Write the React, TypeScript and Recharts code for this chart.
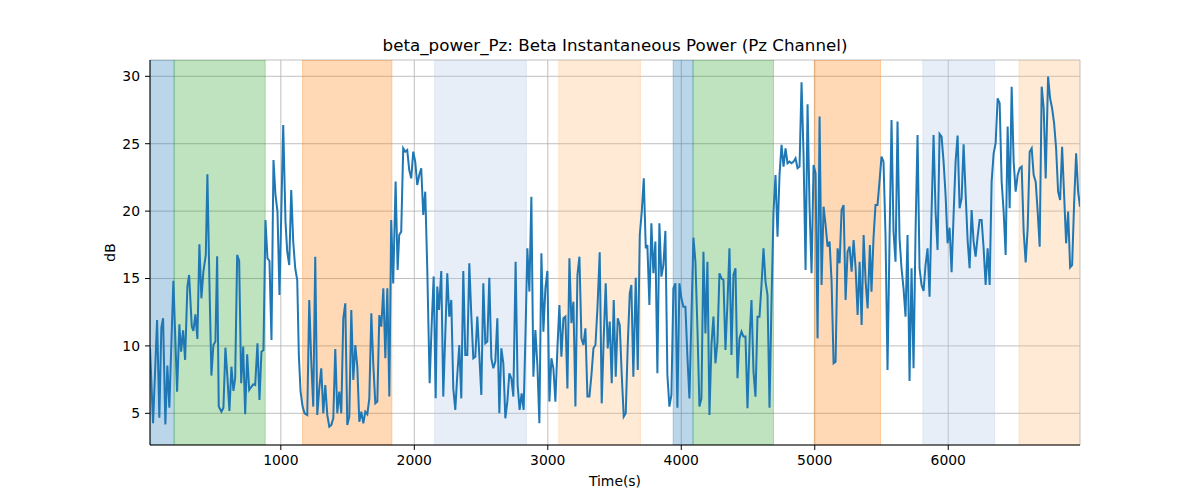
import React from 'react';
import { ComposedChart, Line, XAxis, YAxis, CartesianGrid, ReferenceArea, Label } from 'recharts';

const times = [
  20, 43, 73, 90, 105, 118, 135, 150, 165, 195, 223, 240, 253, 268, 283, 300, 313, 333, 345, 360,
  375, 390, 405, 420, 438, 450, 465, 480, 495, 510, 523, 535, 555, 570, 585, 600, 615, 630, 645, 658,
  673, 688, 703, 718, 733, 748, 763, 778, 793, 808, 825, 840, 855, 870, 885, 900, 915,
  930, 945, 960, 975, 990, 1018, 1035, 1048, 1063, 1078, 1093, 1108, 1123, 1135, 1148, 1163, 1178, 1198, 1213, 1228,
  1243, 1258, 1273, 1288, 1303, 1318, 1333, 1348, 1363, 1378, 1393, 1408, 1423, 1438, 1453, 1468, 1483, 1498, 1513, 1528,
  1543, 1558, 1573, 1588, 1603, 1618, 1633, 1648, 1663, 1678, 1693, 1708, 1723, 1738, 1753, 1768, 1783, 1798, 1813,
  1827, 1842, 1860, 1875, 1887, 1902, 1917, 1932, 1947, 1962, 1977, 1992, 2007, 2022, 2037, 2052, 2067, 2082, 2097, 2115,
  2130, 2145, 2160, 2172, 2185, 2202, 2217, 2247, 2262, 2277, 2292, 2307, 2322, 2337, 2352, 2367, 2382, 2397, 2412, 2427,
  2442, 2457, 2472, 2487, 2502, 2517, 2532, 2547, 2562, 2577, 2592, 2607, 2622, 2637, 2652, 2667, 2682, 2697, 2712,
  2727, 2742, 2759, 2774, 2789, 2804, 2819, 2834, 2847, 2862, 2877, 2892, 2907, 2922, 2937, 2952, 2967, 2982, 2997, 3012,
  3027, 3042, 3057, 3072, 3087, 3102, 3117, 3132, 3147, 3162, 3177, 3192, 3207, 3222, 3237, 3252, 3267, 3282, 3297, 3312,
  3327, 3342, 3357, 3372, 3389, 3404, 3419, 3434, 3449, 3464, 3479, 3494, 3509, 3524, 3539, 3554, 3569, 3584, 3599, 3614,
  3626, 3641, 3659, 3674, 3689, 3704, 3719, 3734, 3746, 3761, 3776, 3791, 3806, 3821, 3836, 3851, 3866, 3881, 3896, 3911,
  3926, 3941, 3956, 3971, 3986, 4001, 4016, 4031, 4046, 4061, 4091, 4106, 4121, 4136, 4151, 4166, 4181, 4196, 4211, 4226,
  4241, 4256, 4271, 4286, 4301, 4316, 4331, 4346, 4361, 4376, 4391, 4406, 4421, 4436, 4451, 4466, 4481, 4496, 4514,
  4526, 4541, 4556, 4571, 4586, 4601, 4616, 4631, 4646, 4661, 4676, 4691, 4706, 4721, 4736, 4751, 4766, 4781, 4796, 4811,
  4826, 4841, 4856, 4871, 4886, 4901, 4916, 4931, 4946, 4961, 4976, 4991, 5006, 5021, 5036, 5051, 5066, 5081, 5096, 5111,
  5126, 5141, 5156, 5171, 5186, 5201, 5216, 5231, 5246, 5261, 5276, 5291, 5306, 5321, 5336, 5351, 5366, 5381, 5396, 5413,
  5425, 5440, 5455, 5470, 5485, 5500, 5515, 5530, 5545, 5560, 5575, 5590, 5605, 5620, 5635, 5650, 5665, 5680, 5695, 5710,
  5725, 5740, 5755, 5770, 5785, 5800, 5815, 5830, 5845, 5860, 5875, 5890, 5905, 5920, 5935, 5950, 5965, 5980, 5995, 6010,
  6025, 6040, 6055, 6070, 6085, 6100, 6115, 6130, 6145, 6160, 6175, 6190, 6205, 6220, 6235, 6250, 6265, 6280, 6295, 6310,
  6325, 6340, 6355, 6370, 6385, 6400, 6415, 6430, 6445, 6460, 6475, 6490, 6505, 6520, 6535, 6550, 6565, 6580, 6595, 6610,
  6625, 6640, 6655, 6670, 6685, 6700, 6715, 6730, 6748, 6763, 6778, 6793, 6808, 6823, 6838, 6853, 6868, 6883, 6898, 6913,
  6928, 6943, 6958, 6973, 6987,
];

const values = [
  9.82, 4.26, 11.92, 4.68, 11.36, 12.05, 4.18, 8.54, 5.42, 14.84, 6.61, 11.6, 9.57, 11.16, 8.96, 14.4, 15.26, 11.43, 11.11, 12.34,
  10.51, 17.54, 13.53, 15.51, 16.75, 22.73, 14.77, 7.8, 10.07, 10.32, 16.65, 5.5, 5.12, 5.42, 9.87, 7.65, 5.17, 8.46, 6.66, 7.6,
  16.75, 16.3, 7.23, 9.95, 4.93, 9.38, 6.73, 6.95, 7.15, 7.1, 10.19, 5.99, 9.57, 9.7, 19.34, 16.5, 16.3,
  10.44, 23.79, 21.2, 19.96, 13.78, 26.39, 19.22, 16.99, 16.0, 21.57, 17.73, 15.76, 14.89, 9.33, 6.61, 5.5, 5.0, 4.88, 13.41, 8.83,
  5.5, 16.62, 4.88, 6.85, 8.34, 5.0, 7.1, 4.88, 4.01, 4.13, 4.63, 9.77, 5.0, 6.61, 5.0, 12.05, 13.16, 4.13, 4.75, 12.67,
  7.47, 10.07, 8.46, 4.38, 5.12, 4.26, 5.12, 4.93, 6.11, 12.42, 8.59, 5.74, 5.87, 12.29, 11.43, 14.27, 9.08, 14.27, 6.24,
  19.34, 14.64, 22.19, 15.63, 18.23, 18.48, 24.66, 24.41, 24.54, 23.05, 22.43, 24.41, 23.67, 21.94, 22.68, 23.18, 19.71, 21.44, 15.76, 7.23,
  11.55, 15.14, 6.11, 14.4, 12.67, 15.56, 6.24, 15.39, 12.17, 13.41, 6.85, 5.25, 7.84, 10.07, 6.11, 15.56, 9.33, 9.33, 16.13, 12.29,
  9.08, 9.2, 12.17, 9.33, 6.36, 14.64, 10.19, 10.32, 15.06, 9.08, 8.34, 8.83, 12.05, 5.0, 9.82, 8.71, 4.63, 5.87, 7.97,
  7.6, 6.24, 16.25, 7.1, 5.25, 6.48, 5.25, 11.31, 17.24, 14.03, 21.07, 7.72, 11.18, 8.59, 4.26, 16.87, 11.06, 14.27, 15.56, 5.87,
  9.08, 8.34, 5.87, 9.82, 13.04, 9.2, 12.05, 12.17, 6.85, 16.5, 11.68, 13.28, 5.5, 15.26, 16.62, 10.56, 10.07, 11.31, 6.24, 6.24,
  7.84, 9.82, 10.07, 12.79, 16.94, 5.74, 10.56, 14.64, 9.82, 11.8, 7.23, 13.41, 7.72, 12.05, 11.55, 7.84, 4.75, 5.0, 10.07, 13.9,
  14.52, 7.72, 15.06, 8.21, 18.23, 19.96, 22.43, 17.24, 17.49, 13.04, 19.1, 15.39, 17.74, 7.97, 19.1, 15.14, 16.0, 18.53, 7.84, 5.5,
  6.36, 14.27, 14.64, 5.42, 14.64, 13.53, 12.91, 12.91, 9.2, 6.11, 18.03, 16.25, 11.31, 5.5, 6.11, 16.99, 10.93, 16.25, 4.88, 10.07,
  12.17, 8.71, 10.32, 15.39, 15.01, 14.89, 9.7, 13.2, 17.24, 9.33, 15.26, 15.76, 7.6, 10.56, 11.06, 10.69, 10.69, 5.37, 11.06,
  13.41, 8.09, 6.24, 12.17, 12.17, 14.52, 17.24, 14.77, 13.78, 5.42, 13.28, 19.96, 22.68, 18.11, 22.68, 24.91, 23.3, 24.66, 23.55, 23.67,
  23.55, 23.67, 23.92, 23.18, 23.3, 29.55, 24.16, 15.63, 27.92, 20.33, 15.39, 23.42, 22.8, 10.56, 27.01, 14.52, 20.33, 18.97, 17.36, 17.74,
  14.77, 8.71, 8.83, 17.24, 16.13, 20.08, 20.45, 13.41, 16.99, 17.36, 15.51, 17.86, 15.76, 12.29, 16.25, 11.55, 18.23, 14.77, 12.79, 17.49,
  14.03, 17.98, 20.45, 20.45, 22.19, 24.04, 23.67, 18.23, 8.21, 17.74, 26.76, 18.48, 16.25, 26.64, 17.98, 15.76, 14.27, 12.17, 18.23, 7.4,
  15.76, 8.34, 18.48, 25.65, 15.76, 14.52, 14.08, 16.0, 17.24, 13.65, 19.96, 25.65, 19.96, 17.12, 25.72, 25.52, 23.67, 21.2, 17.61, 18.77,
  15.46, 19.71, 23.67, 25.6, 20.21, 20.95, 24.96, 21.32, 17.86, 15.76, 20.08, 17.74, 16.62, 18.11, 19.34, 19.34, 17.24, 14.52, 17.24, 14.52,
  22.19, 24.29, 25.03, 28.37, 28.0, 22.19, 19.96, 16.75, 26.27, 20.21, 29.23, 23.67, 21.44, 22.68, 23.18, 23.3, 18.48, 16.2, 18.72, 24.41,
  24.66, 22.68, 22.19, 19.96, 17.36, 29.23, 27.63, 22.43, 29.98, 28.37, 27.63, 26.51, 24.66, 21.44, 20.83, 24.78, 21.2, 17.61, 19.96, 15.83,
  16.0, 20.58, 24.29, 21.44, 20.33,
];

const xTicks = [1000, 2000, 3000, 4000, 5000, 6000];
const yTicks = [5, 10, 15, 20, 25, 30];
const xDomain = [20, 6987];
const yDomain = [2.65, 31.21];

const spanStarts = [20, 201, 1163, 2152, 3082, 3939, 4088, 4996, 5810, 6530];
const spanEnds = [201, 883, 1832, 2840, 3694, 4088, 4691, 5493, 6348, 6987];
const spanColors = ['#1f77b4', '#2ca02c', '#ff7f0e', '#aec7e8', '#ffbb78', '#1f77b4', '#2ca02c', '#ff7f0e', '#aec7e8', '#ffbb78'];

const TITLE = 'beta_power_Pz: Beta Instantaneous Power (Pz Channel)';
const X_LABEL = 'Time(s)';
const Y_LABEL = 'dB';

const data = times.map((t, i) => ({ t, v: values[i] }));

const FONT = 'DejaVu Sans';
const FS = 13.9;

export default function App() {
  return (
    <div style={{ position: 'absolute', left: 0, top: 0, width: 1200, height: 500, background: '#fff' }}>
      <ComposedChart width={1200} height={500} data={data} margin={{ top: 60, right: 120, bottom: 0, left: 100 }}>
        <CartesianGrid stroke="#b0b0b0" strokeWidth={0.8} />
        {spanStarts.map((s, i) => (
          <ReferenceArea
            key={i}
            x1={s}
            x2={spanEnds[i]}
            fill={spanColors[i]}
            fillOpacity={0.3}
            stroke={spanColors[i]}
            strokeOpacity={0.3}
            strokeWidth={1}
            ifOverflow="hidden"
          />
        ))}
        <XAxis
          dataKey="t"
          type="number"
          domain={xDomain}
          ticks={xTicks}
          allowDataOverflow
          height={55}
          tickSize={5}
          tickMargin={5}
          tick={{ fill: '#000', fontSize: FS, fontFamily: FONT }}
          tickLine={{ stroke: '#000' }}
          axisLine={{ stroke: '#000' }}
        >
          <Label
            content={(props: any) => {
              const vb = props.viewBox;
              const cx = vb.x + vb.width / 2;
              return (
                <g>
                  <text x={cx} y={vb.y + 41} textAnchor="middle" fill="#000" fontSize={FS} fontFamily={FONT}>
                    {X_LABEL}
                  </text>
                  <text x={cx} y={51} textAnchor="middle" fill="#000" fontSize={16.7} fontFamily={FONT}>
                    {TITLE}
                  </text>
                </g>
              );
            }}
          />
        </XAxis>
        <XAxis
          xAxisId="top"
          orientation="top"
          type="number"
          domain={xDomain}
          allowDataOverflow
          height={0}
          tick={false}
          tickLine={false}
          axisLine={{ stroke: '#000' }}
        />
        <YAxis
          type="number"
          domain={yDomain}
          ticks={yTicks}
          allowDataOverflow
          width={50}
          tickSize={5}
          tickMargin={5}
          tick={{ fill: '#000', fontSize: FS, fontFamily: FONT }}
          tickLine={{ stroke: '#000' }}
          axisLine={{ stroke: '#000' }}
        >
          <Label
            content={(props: any) => {
              const vb = props.viewBox;
              const cx = 115;
              const cy = vb.y + vb.height / 2;
              return (
                <text x={cx} y={cy} textAnchor="middle" fill="#000" fontSize={FS} fontFamily={FONT} transform={`rotate(-90, ${cx}, ${cy})`}>
                  {Y_LABEL}
                </text>
              );
            }}
          />
        </YAxis>
        <YAxis
          yAxisId="right"
          orientation="right"
          type="number"
          domain={yDomain}
          width={0}
          tick={false}
          tickLine={false}
          axisLine={{ stroke: '#000' }}
        />
        <Line
          dataKey="v"
          type="linear"
          stroke="#1f77b4"
          strokeWidth={2}
          dot={false}
          activeDot={false}
          isAnimationActive={false}
        />
      </ComposedChart>
    </div>
  );
}
